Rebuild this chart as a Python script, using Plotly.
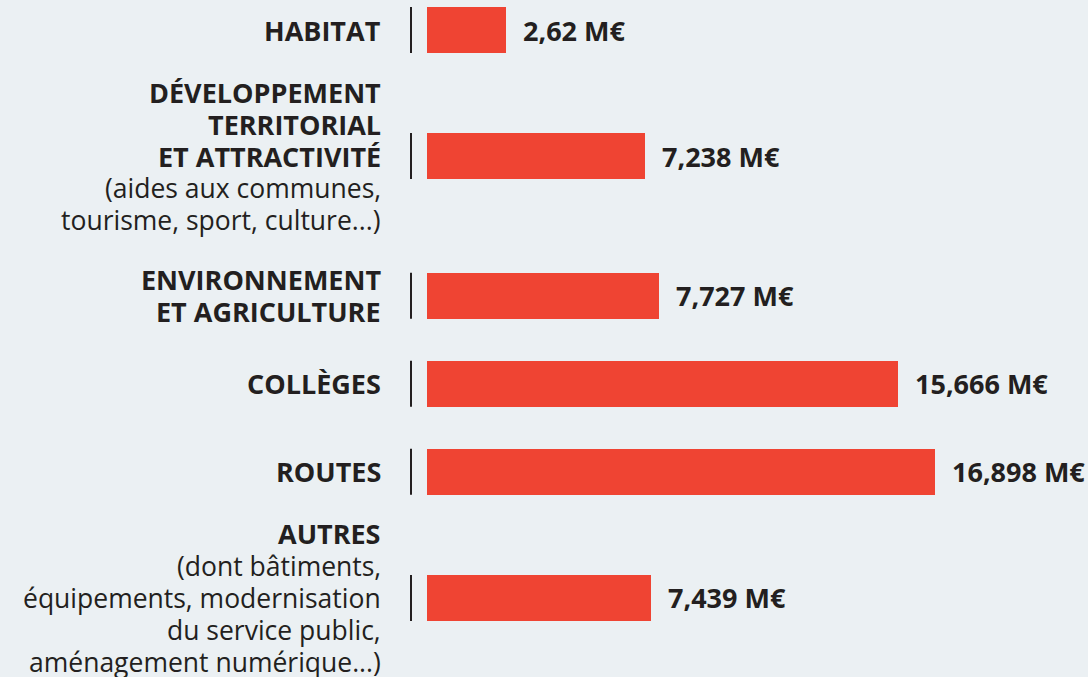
import plotly.graph_objects as go

# ---- data ----
title_lines = [["HABITAT"],
               ["DÉVELOPPEMENT", "TERRITORIAL", "ET ATTRACTIVITÉ"],
               ["ENVIRONNEMENT", "ET AGRICULTURE"],
               ["COLLÈGES"],
               ["ROUTES"],
               ["AUTRES"]]
subtitle_lines = [[],
                  ["(aides aux communes,", "tourisme, sport, culture...)"],
                  [],
                  [],
                  [],
                  ["(dont bâtiments,", "équipements, modernisation", "du service public,", "aménagement numérique...)"]]
values = [2.62, 7.238, 7.727, 15.666, 16.898, 7.439]
value_labels = ["2,62 M€", "7,238 M€", "7,727 M€", "15,666 M€", "16,898 M€", "7,439 M€"]

# ---- layout helpers ----
W, H = 1088, 677
L = 427
BG = "#ebf0f3"
RED = "#ef4433"
DARK = "#231f20"
FONT = "Open Sans"
FS_B = 27
FS_R = 26.5
LINE = 32

# row positions derived from number of label lines
lines = [len(t) + len(s) for t, s in zip(title_lines, subtitle_lines)]
pos = [30]
for a, b in zip(lines[:-1], lines[1:]):
    pos.append(pos[-1] + max(88, 44.5 + 13.6 * (a + b)))
bar_h = 46

fig = go.Figure()
fig.add_trace(go.Bar(
    x=values, y=pos, orientation="h", width=bar_h,
    marker=dict(color=RED, line=dict(width=0)),
    hoverinfo="skip", showlegend=False,
))

x_max = (W - L) / 30.05
annotations = []
shapes = []
for tl, sl, v, lab, y in zip(title_lines, subtitle_lines, values, value_labels, pos):
    all_lines = [(t, True) for t in tl] + [(s, False) for s in sl]
    n = len(all_lines)
    for i, (txt, bold) in enumerate(all_lines):
        yy = y + (i - (n - 1) / 2) * LINE
        annotations.append(dict(
            text="<b>" + txt + "</b>" if bold else txt,
            x=-44 / (W - L), xref="paper", y=yy, yref="y",
            xanchor="right", yanchor="middle", align="right", showarrow=False,
            font=dict(family=FONT, size=FS_B if bold else FS_R, color=DARK),
        ))
    annotations.append(dict(
        text="<b>" + lab + "</b>", x=v, xref="x", y=y, yref="y",
        xanchor="left", yanchor="middle", xshift=15, showarrow=False,
        font=dict(family=FONT, size=FS_B, color=DARK),
    ))
    shapes.append(dict(
        type="line", xref="paper", yref="y",
        x0=-16 / (W - L), x1=-16 / (W - L),
        y0=y - bar_h / 2, y1=y + bar_h / 2,
        line=dict(color=DARK, width=2),
    ))

fig.update_layout(
    width=W, height=H,
    margin=dict(l=L, r=0, t=0, b=0),
    paper_bgcolor=BG, plot_bgcolor=BG,
    xaxis=dict(range=[0, x_max], visible=False, fixedrange=True),
    yaxis=dict(range=[H, 0], visible=False, fixedrange=True),
    annotations=annotations, shapes=shapes,
    bargap=0,
)
fig.write_html("out.html", config={"displayModeBar": False},
               post_script="document.body.style.margin='0';document.body.style.background='" + BG + "';")
